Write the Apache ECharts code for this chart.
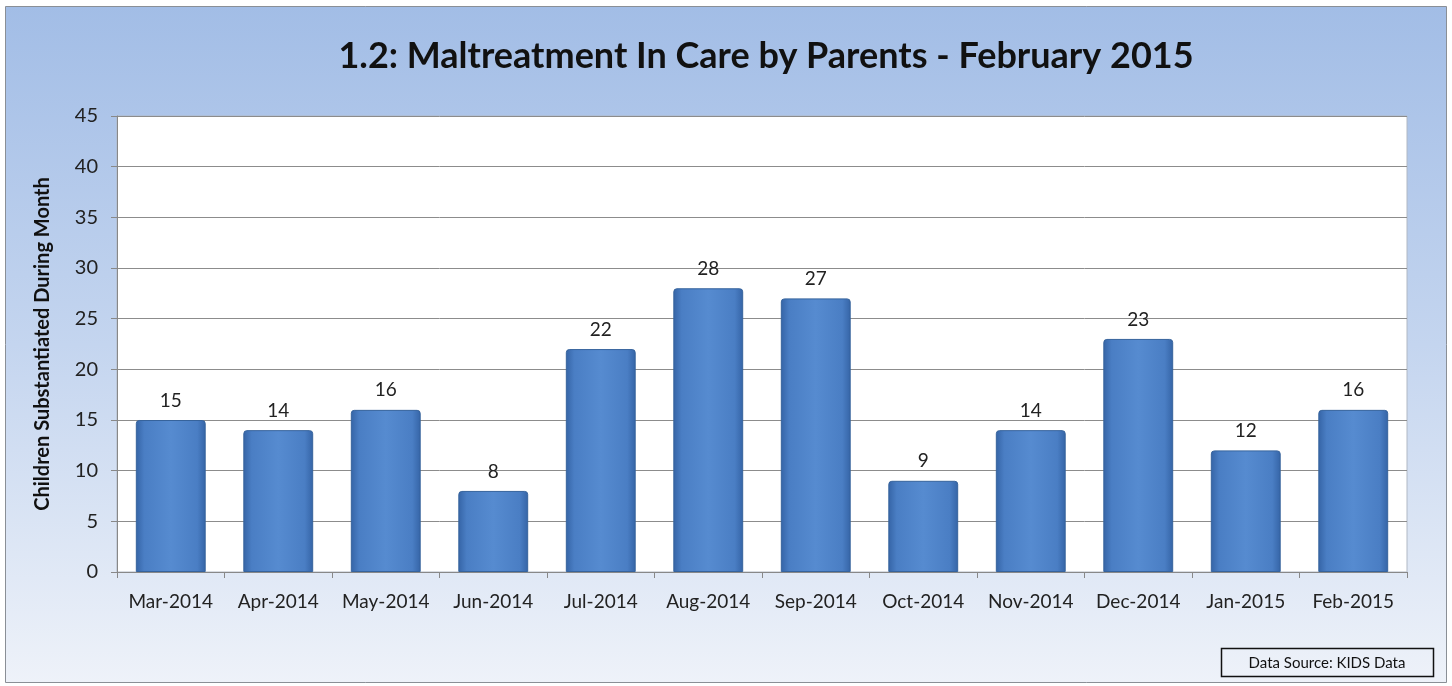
<!DOCTYPE html>
<html>
<head>
<meta charset="utf-8">
<script src="https://cdn.jsdelivr.net/npm/echarts@6/dist/echarts.min.js"></script>
<style>
html,body{margin:0;padding:0;background:#fff;}
#c{width:1452px;height:686px;}
</style>
</head>
<body>
<div id="c"></div>
<script>
const categories = ['Mar-2014','Apr-2014','May-2014','Jun-2014','Jul-2014','Aug-2014','Sep-2014','Oct-2014','Nov-2014','Dec-2014','Jan-2015','Feb-2015'];
const values = [15,14,16,8,22,28,27,9,14,23,12,16];
const yTicks = [0,5,10,15,20,25,30,35,40,45];

const chart = echarts.init(document.getElementById('c'));
const font = 'Lato, "Open Sans", sans-serif';
chart.setOption({
  animation: false,
  graphic: [
    {type:'rect', z:-10, shape:{x:5.5,y:6.5,width:1441,height:676},
     style:{fill:{type:'linear',x:0,y:0,x2:0,y2:1,colorStops:[{offset:0,color:'#A2BDE6'},{offset:0.5,color:'#C4D5EF'},{offset:1,color:'#EEF2F9'}]}, stroke:'#8a8f96', lineWidth:1}},
    {type:'rect', z:-5, shape:{x:117,y:116,width:1290,height:456}, style:{fill:'#ffffff', stroke:'#b0b8c4', lineWidth:1}},
    {type:'rect', shape:{x:1221.5,y:648.5,width:212,height:28}, style:{fill:'rgba(255,255,255,0)', stroke:'#111', lineWidth:1.5}},
    {type:'text', style:{x:1327, y:663, text:'Data Source: KIDS Data', fill:'#111', font:'15px ' + font, align:'center', verticalAlign:'middle'}}
  ],
  title: {
    text: '1.2: Maltreatment In Care by Parents - February 2015',
    left: 761, top: 33, textAlign:'center',
    textStyle: {fontFamily: font, fontWeight:'bold', fontSize: 36, color:'#111'}
  },
  grid: {left:117, right:45, top:116, bottom:114},
  xAxis: {
    type:'category', data: categories,
    axisLine:{show:true, lineStyle:{color:'#888', width:1}},
    axisTick:{show:true, alignWithLabel:false, interval:0, length:6, lineStyle:{color:'#888'}},
    axisLabel:{fontFamily:font, fontSize:19, color:'#222', margin:20, interval:0}
  },
  yAxis: {
    type:'value', min:0, max:45, interval:5,
    name:'Children Substantiated During Month', nameLocation:'middle', nameGap:64,
    nameTextStyle:{fontFamily:font, fontWeight:'bold', fontSize:20, color:'#111'},
    axisLine:{show:true, lineStyle:{color:'#888'}},
    axisTick:{show:true, length:6, lineStyle:{color:'#888'}},
    axisLabel:{fontFamily:font, fontSize:20, color:'#222', margin:19,
      formatter: v => yTicks.includes(v) ? String(v) : ''},
    splitLine:{show:true, lineStyle:{color:'#8c8c8c', width:1}}
  },
  series: [{
    type:'bar', data: values, barWidth:'65%',
    itemStyle:{
      color:{type:'linear',x:0,y:0,x2:1,y2:0,colorStops:[
        {offset:0,color:'#3564a6'},{offset:0.12,color:'#4a7ec4'},{offset:0.5,color:'#568bd0'},{offset:0.88,color:'#4a7ec4'},{offset:1,color:'#3564a6'}]},
      borderColor:'#36639c', borderWidth:1, borderRadius:[3,3,0,0]
    },
    label:{show:true, position:'top', distance:10, fontFamily:font, fontSize:19, color:'#222'}
  }]
});
</script>
</body>
</html>
